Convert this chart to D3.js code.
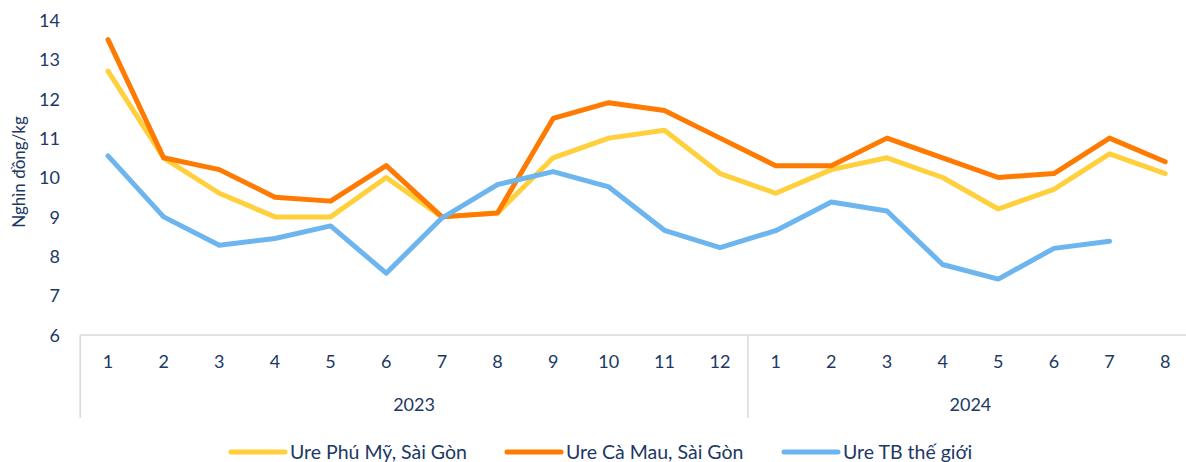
<!DOCTYPE html>
<html>
<head>
<meta charset="utf-8">
<script src="https://cdn.jsdelivr.net/npm/d3@7"></script>
<style>
  html, body { margin: 0; padding: 0; background: #fff; }
  svg text { font-family: Lato, "Open Sans", sans-serif; fill: #203864; }
</style>
</head>
<body>
<svg id="chart" width="1186" height="462"></svg>
<script>
const months = ["1","2","3","4","5","6","7","8","9","10","11","12","1","2","3","4","5","6","7","8"];
const years = ["2023", "2024"];
const yearCounts = [12, 8];
const yTicks = [6, 7, 8, 9, 10, 11, 12, 13, 14];
const seriesNames = ["Ure Phú Mỹ, Sài Gòn", "Ure Cà Mau, Sài Gòn", "Ure TB thế giới"];
const seriesColors = ["#FFD03C", "#FF7A00", "#6DB5EE"];
const phuMy = [12.7, 10.5, 9.6, 9.0, 9.0, 10.0, 9.0, 9.1, 10.5, 11.0, 11.2, 10.1, 9.6, 10.2, 10.5, 10.0, 9.2, 9.7, 10.6, 10.1];
const caMau = [13.5, 10.5, 10.2, 9.5, 9.4, 10.3, 9.0, 9.1, 11.5, 11.9, 11.7, 11.0, 10.3, 10.3, 11.0, 10.5, 10.0, 10.1, 11.0, 10.4];
const theGioi = [10.55, 9.0, 8.28, 8.45, 8.77, 7.57, 8.97, 9.82, 10.15, 9.76, 8.66, 8.22, 8.65, 9.38, 9.15, 7.79, 7.42, 8.2, 8.38, null];
const yTitle = "Nghìn đồng/kg";

(function () {
const svg = d3.select("#chart");
const mLeft = 80.2, mRight = 1193, mTop = 20, mBottom = 335;
const idx = d3.range(months.length);
const x = d3.scaleBand().domain(idx).range([mLeft, mRight]).paddingInner(0).paddingOuter(0);
const y = d3.scaleLinear().domain([6, 14]).range([mBottom, mTop]);

// Y axis labels
const yAxis = d3.axisLeft(y).tickValues(yTicks).tickSize(0).tickPadding(0).tickFormat(d3.format("d"));
const yg = svg.append("g").attr("transform", `translate(60,0)`).call(yAxis);
yg.select(".domain").remove();
yg.selectAll("text").attr("font-size", 18).attr("text-anchor", "end").attr("dy", "0.35em").attr("fill", "#203864");

// Y title
svg.append("text")
  .attr("transform", `translate(25,172) rotate(-90)`)
  .attr("text-anchor", "middle")
  .attr("font-size", 17)
  .text(yTitle);

// X axis baseline
svg.append("line").attr("x1", mLeft).attr("x2", mRight).attr("y1", mBottom).attr("y2", mBottom)
  .attr("stroke", "#d9d9d9").attr("stroke-width", 1.5);

// vertical separators
[0, yearCounts[0]].forEach(i => {
  const sx = x(i);
  svg.append("line").attr("x1", sx).attr("x2", sx).attr("y1", mBottom).attr("y2", 418)
    .attr("stroke", "#d9d9d9").attr("stroke-width", 1.5);
});

// month labels
const xAxis = d3.axisBottom(x).tickSize(0).tickPadding(0).tickFormat(i => months[i]);
const xg = svg.append("g").attr("transform", `translate(0,${mBottom})`).call(xAxis);
xg.select(".domain").remove();
xg.selectAll("text").attr("font-size", 18).attr("y", 27).attr("dy", "0.35em").attr("fill", "#203864");

// year labels
let start = 0;
years.forEach((yr, k) => {
  const s = start, e = start + yearCounts[k] - 1;
  const cx = (x(s) + x(e) + x.bandwidth()) / 2;
  svg.append("text").attr("x", cx).attr("y", 405).attr("dy", "0.35em")
    .attr("text-anchor", "middle").attr("font-size", 18).text(yr);
  start += yearCounts[k];
});

// lines
const data = [phuMy, caMau, theGioi];
const line = d3.line()
  .defined(d => d.v != null)
  .x(d => x(d.i) + x.bandwidth() / 2)
  .y(d => y(d.v));
data.forEach((vals, k) => {
  svg.append("path")
    .datum(vals.map((v, i) => ({ i, v })))
    .attr("fill", "none")
    .attr("stroke", seriesColors[k])
    .attr("stroke-width", 5)
    .attr("stroke-linejoin", "round")
    .attr("stroke-linecap", "round")
    .attr("d", line);
});

// legend
const legendX = [231, 507, 784];
const legendY = 452;
seriesNames.forEach((name, k) => {
  const g = svg.append("g").attr("transform", `translate(${legendX[k]},${legendY})`);
  g.append("line").attr("x1", 0).attr("x2", 54).attr("y1", 0).attr("y2", 0)
    .attr("stroke", seriesColors[k]).attr("stroke-width", 5).attr("stroke-linecap", "round");
  g.append("text").attr("x", 59).attr("y", 0).attr("dy", "0.35em")
    .attr("font-size", 19.5).text(name);
});
})();
</script>
</body>
</html>
